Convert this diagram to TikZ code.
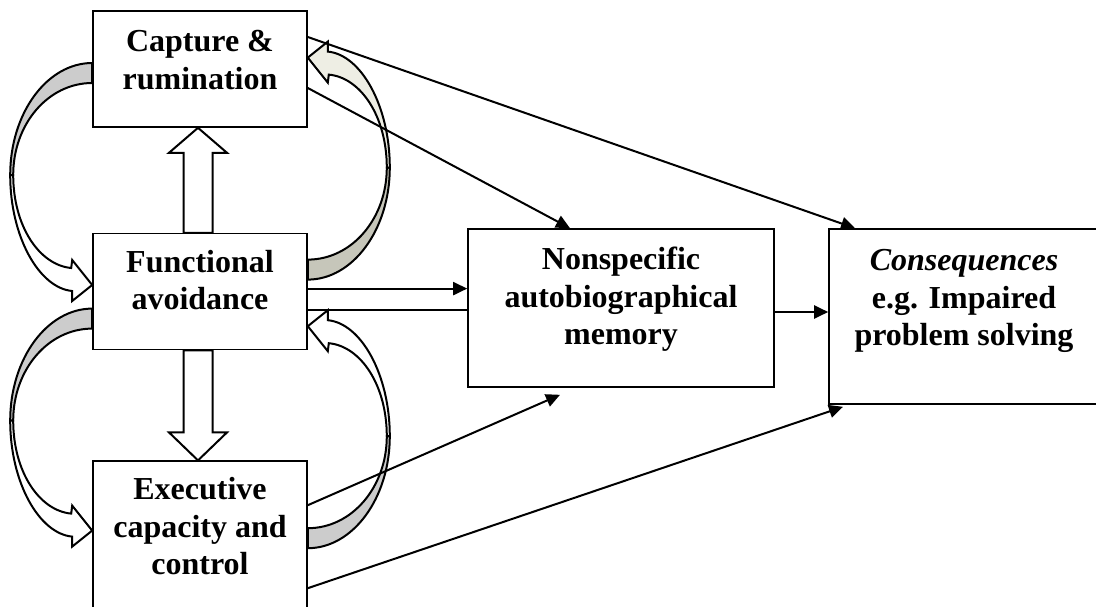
\documentclass[tikz,border=0pt]{standalone}
\usepackage{fontspec}
\setmainfont{Liberation Serif}
\usepackage{xcolor}
\usetikzlibrary{arrows.meta,positioning,calc}

\definecolor{bandgray}{RGB}{204,204,204}
\definecolor{bandolive}{RGB}{198,198,186}
\definecolor{headcream}{RGB}{238,238,228}

% twisted curved block arrow, drawn from its tail (top) round the left to its head
\tikzset{
  pics/loopy/.style 2 args={code={
    \filldraw[line width=2pt, fill=#1] (0,0) .. controls (-45,0) and (-82,50) .. (-82,112)
      -- (-79,112) .. controls (-79,61) and (-44,20) .. (0,20) -- cycle;
    \filldraw[line width=2pt, fill=#2] (-82,112) .. controls (-82,174) and (-53,225) .. (-20,228)
      -- (-20,238) -- (0,222) -- (-20,197) -- (-21,205)
      .. controls (-53,202) and (-79,163) .. (-79,112) -- cycle;
  }}
}

\begin{document}
\begin{tikzpicture}[x=1pt, y=-1pt,
  box/.style={draw, line width=1.6pt, fill=white, inner sep=0pt},
  lbl/.style={align=center, inner sep=0pt, font=\bfseries\fontsize{32}{37.5}\selectfont},
  link/.style={-{Triangle[length=14pt,width=13pt]}, line width=2pt},
  fat/.style={draw, fill=white, line width=2pt}
]
\useasboundingbox (0,0) rectangle (1096,606);
\clip (0,0) rectangle (1096,606);

\node[box, minimum width=214pt, minimum height=116pt] (cap) at (200,69) {};
\node[box, minimum width=214pt, minimum height=116pt, below=105pt of cap] (func) {};
\node[box, minimum width=214pt, minimum height=162pt, below=110pt of func] (exec) {};
\node[box, minimum width=306pt, minimum height=158pt] (mem) at (621,308) {};
\node[box, minimum width=270pt, minimum height=175pt] (cons) at (964,316.5) {};

\node[lbl, below=20pt of cap.north] (capt) {Capture \&\\ rumination};
\node[lbl, below=17pt of func.north] (funct) {Functional\\ avoidance};
\node[lbl, below=17pt of exec.north] (exect) {Executive\\ capacity and\\ control};
\node[lbl, below=19pt of mem.north] (memt) {Nonspecific\\ autobiographical\\ memory};
\node[lbl, below=21pt of cons.north] (const) {\textit{Consequences}\\ e.g. Impaired\\ problem solving};

% fat up / down arrows
\draw[fat] ([xshift=-16.5pt]func.north) -- ++(0,-80) -- ++(-14.5,0) -- ([xshift=-2pt]cap.south)
  -- ++(29,25) -- ++(-14.5,0) -- ([xshift=12.5pt]func.north) -- cycle;
\draw[fat] ([xshift=-16.5pt]func.south) -- ++(0,82) -- ++(-14.5,0) -- ([xshift=-2pt]exec.north)
  -- ++(29,-28) -- ++(-14.5,0) -- ([xshift=12.5pt]func.south) -- cycle;

% curved loops
\pic at ([yshift=6pt]cap.west) {loopy={bandgray}{white}};
\pic at ([yshift=-17pt]func.west) {loopy={bandgray}{white}};
\pic[rotate=180] at ([yshift=12pt]func.east) {loopy={bandolive}{headcream}};
\pic[rotate=180] at ([yshift=-6pt]exec.east) {loopy={bandgray}{white}};

\draw[link] ([yshift=32pt]cap.east) -- ([xshift=-109pt]cons.north);
\draw[link] ([yshift=-19pt]cap.east) -- ([xshift=-51pt]mem.north);
\draw[link] ([yshift=3pt]func.east) -- ([yshift=3pt]func.east -| mem.west);
\draw[line width=2pt] ([yshift=-2pt]mem.west) -- ([yshift=-2pt]mem.west -| func.east);
\draw[link] ([yshift=-4pt]mem.east) -- ([yshift=-4pt]mem.east -| cons.west);
\draw[link] ([yshift=37pt]exec.east) -- ([xshift=-61pt,yshift=-7pt]mem.south);
\draw[link] ([yshift=-46pt]exec.east) -- ([xshift=-121pt,yshift=-2pt]cons.south);
\end{tikzpicture}
\end{document}
